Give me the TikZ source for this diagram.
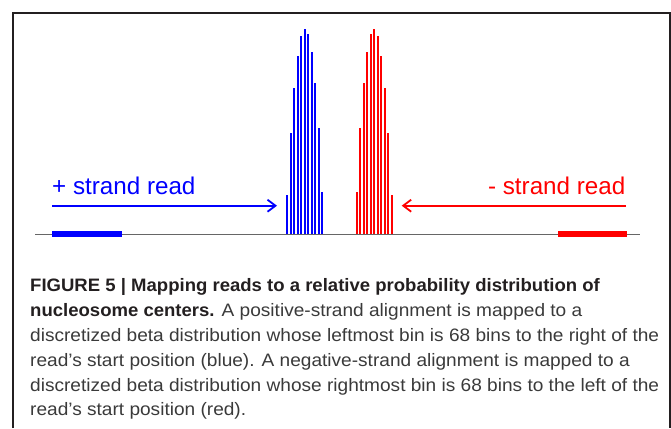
\documentclass[tikz,border=0pt]{standalone}
\usepackage{fontspec}
\setmainfont{Liberation Sans}
\newfontfamily\labelfont{Liberation Sans}[FakeStretch=1.0]
\newfontfamily\capreg{Liberation Sans}[FakeStretch=1.06]
\newfontfamily\capbold{Liberation Sans Bold}[FakeStretch=1.03]
\usetikzlibrary{arrows.meta}
\definecolor{framecol}{HTML}{231F20}
\definecolor{captext}{HTML}{3A3A3A}
\definecolor{axiscol}{HTML}{666666}
\definecolor{pblue}{RGB}{0,0,255}
\definecolor{pred}{RGB}{255,0,0}
\tikzset{
  bluebar/.style={draw=pblue, line width=2pt},
  redbar/.style={draw=pred, line width=2pt},
  readarrow/.style={line width=1.8pt, -{Straight Barb[length=8pt,width=12pt,line width=1.8pt]}},
  strandlabel/.style={font=\labelfont\fontsize{24.2}{29}\selectfont, inner sep=0pt},
  capline/.style={anchor=base west, inner sep=0pt, text=captext, font=\capreg\fontsize{18}{22}\selectfont},
}
\begin{document}
\begin{tikzpicture}[x=1pt,y=-1pt]
\useasboundingbox (0,0) rectangle (671,428);
% frame
\draw[framecol, line width=2pt] (13,428) -- (13,13) -- (669.5,13) -- (669.5,428);
% axis
\coordinate (axL) at (35,234.5);
\coordinate (axR) at (640,234.5);
\draw[axiscol, line width=1.2pt] (axL) -- (axR);
% reads
\fill[pblue] (52,231) rectangle (122,237.3);
\fill[pred] (557.7,231) rectangle (626.7,237.3);
% distributions
\foreach \h [count=\i from 0] in {195,133.3,88.3,56,36,29.3,34.3,52.3,83.3,128.3,192.3}
  \draw[bluebar] ({287.3+3.5*\i},234) -- ({287.3+3.5*\i},\h);
\foreach \h [count=\i from 0] in {192.3,128.3,83.3,52.3,34.3,29.3,36,56,88.3,133.3,195}
  \draw[redbar] ({356.7+3.5*\i},234) -- ({356.7+3.5*\i},\h);
% arrows
\coordinate (bs) at (52,205.7);
\coordinate (be) at (277,205.7);
\coordinate (rs) at (626,205.7);
\coordinate (re) at (401.7,205.7);
\draw[readarrow, pblue] (bs) -- (be);
\draw[readarrow, pred] (rs) -- (re);
% labels
\node[strandlabel, text=pblue, anchor=base west] (plus) at (52,194.3) {+ strand read};
\node[strandlabel, text=pred, anchor=base east] (minus) at (625.5,194.3) {- strand read};
% caption
\node[capline, text=framecol] (c1) at (30,291.5) {\capbold FIGURE 5 | Mapping reads to a relative probability distribution of};
\node[capline] (c2) at (30,316.5) {{\capbold\color{framecol}nucleosome centers.} A positive-strand alignment is mapped to a};
\node[capline] (c3) at (30,341.5) {discretized beta distribution whose leftmost bin is 68 bins to the right of the};
\node[capline] (c4) at (30,366) {read’s start position (blue). A negative-strand alignment is mapped to a};
\node[capline] (c5) at (30,391) {discretized beta distribution whose rightmost bin is 68 bins to the left of the};
\node[capline] (c6) at (30,415.5) {read’s start position (red).};
\end{tikzpicture}
\end{document}
